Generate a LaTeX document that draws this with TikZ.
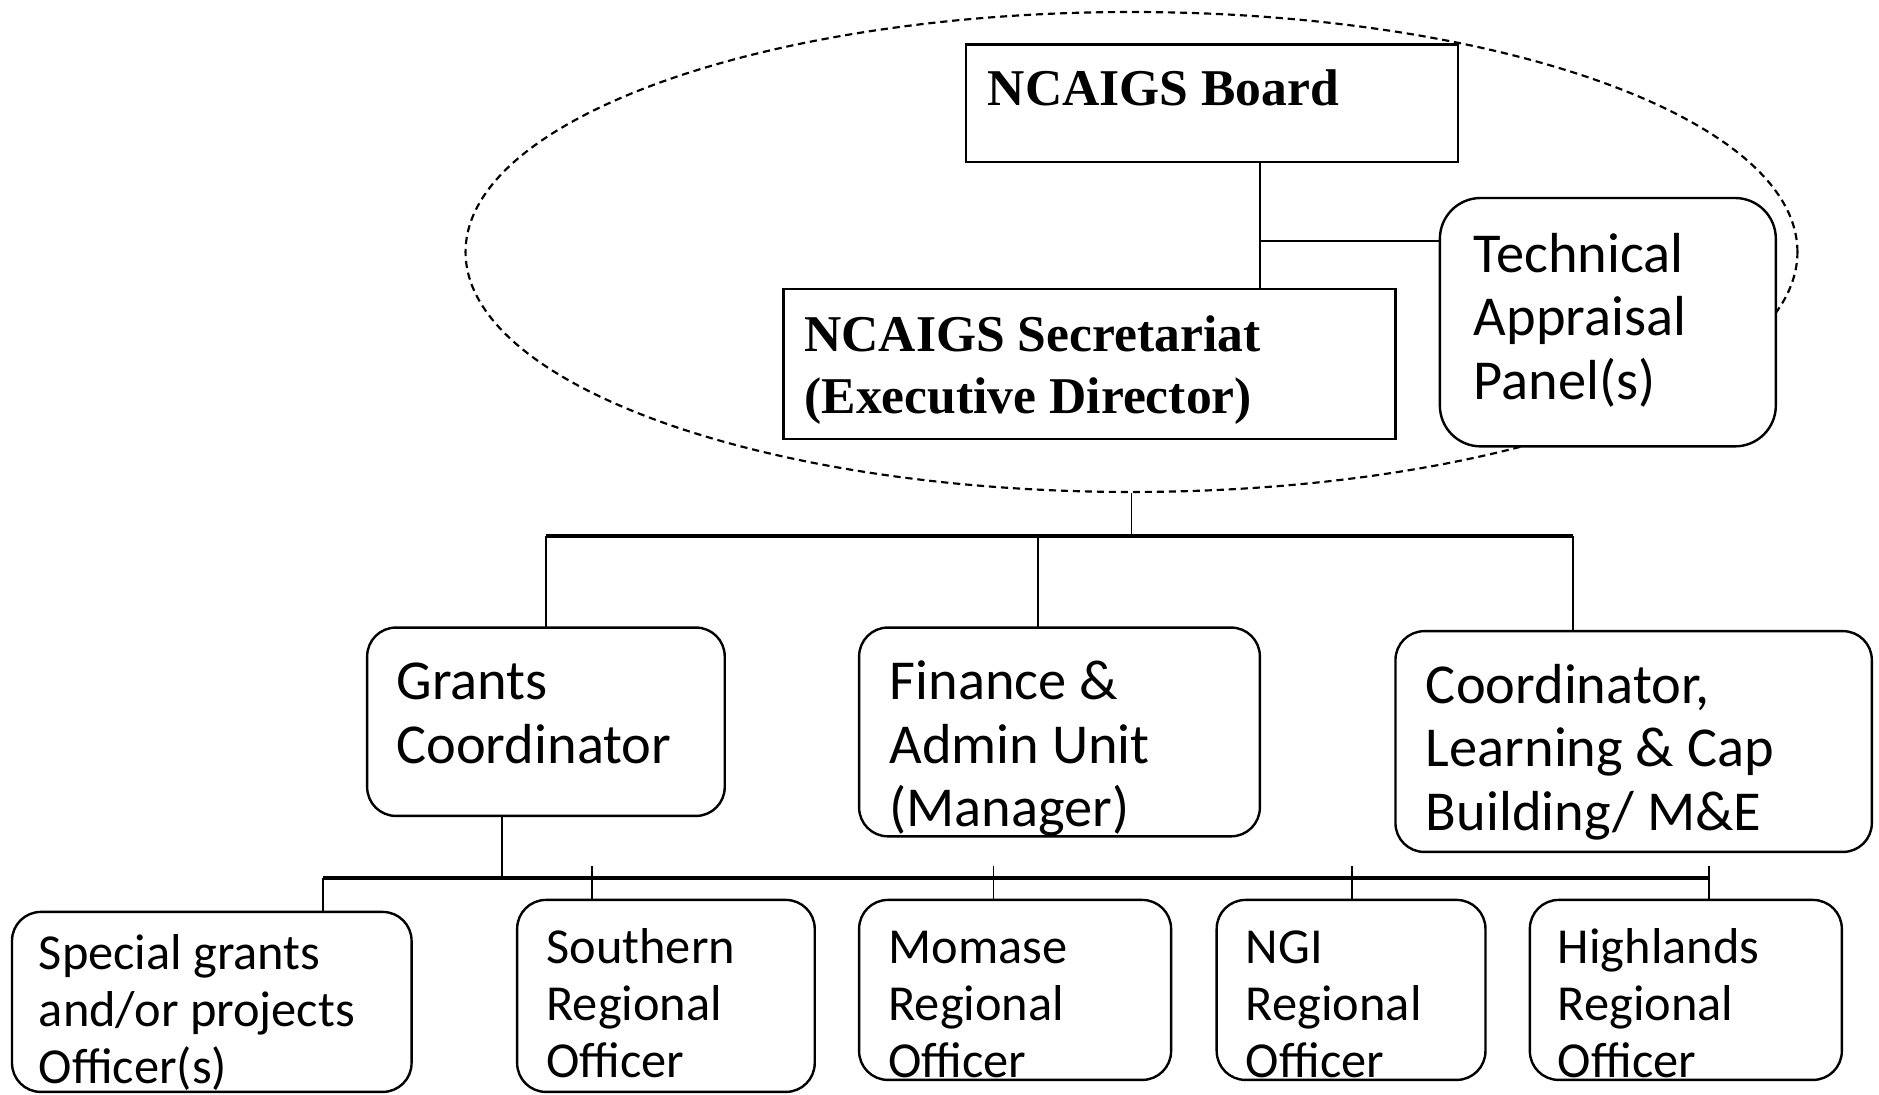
\documentclass[tikz,border=0pt]{standalone}
\usepackage{fontspec}
\usetikzlibrary{shapes.geometric}
\newfontfamily\boxsans{Carlito}
\newfontfamily\boxserif{Liberation Serif}
\tikzset{
 sqbox/.style={draw,line width=1pt,fill=white,inner sep=0pt,outer sep=0pt},
 rbox/.style={sqbox,rounded corners=12pt},
 lbl/.style={anchor=base west,inner sep=0pt,align=left},
 midtxt/.style={lbl,font=\boxsans\fontsize{23.5}{26.5}\selectfont},
 lowtxt/.style={lbl,font=\boxsans\fontsize{21}{23.75}\selectfont},
 boldtxt/.style={lbl,font=\boxserif\bfseries\fontsize{21.5}{26}\selectfont},
 link/.style={line width=0.8pt},
 bus/.style={line width=1.6pt},
}
\begin{document}
\begin{tikzpicture}[x=0.5pt,y=-0.5pt]
 \useasboundingbox (0,0) rectangle (1566,912);
 % dashed group round board, secretariat and panel
 \node[draw,dashed,dash pattern=on 3pt off 2pt,line width=0.9pt,ellipse,inner sep=0pt,
   minimum width=555pt,minimum height=200pt] (group) at (943,210) {};
 % top level
 \node[sqbox,minimum width=205pt,minimum height=49pt,
   label={[boldtxt,xshift=9pt,yshift=-25.5pt]north west:{NCAIGS Board}}] (board) at (1010,86) {};
 \node[sqbox,minimum width=255pt,minimum height=62.5pt,
   label={[boldtxt,xshift=8.5pt,yshift=-52pt]north west:{NCAIGS Secretariat\\(Executive Director)}}] (secr) at (908,303.5) {};
 \node[rbox,rounded corners=17pt,minimum width=140pt,minimum height=103.5pt,
   label={[midtxt,xshift=14pt,yshift=-84pt]north west:{Technical\\Appraisal\\Panel(s)}}] (tech) at (1340,268.5) {};
 % units
 \node[rbox,minimum width=149pt,minimum height=78.5pt,
   label={[midtxt,xshift=12pt,yshift=-56.5pt]north west:{Grants\\Coordinator}}] (grants) at (455,601.5) {};
 \node[rbox,minimum width=167pt,minimum height=87pt,
   label={[midtxt,xshift=12.5pt,yshift=-83pt]north west:{Finance \&\\Admin Unit\\(Manager)}}] (fin) at (883,610) {};
 \node[rbox,minimum width=198.5pt,minimum height=92pt,
   label={[midtxt,xshift=12.5pt,yshift=-83pt]north west:{Coordinator,\\Learning \& Cap\\Building/ M\&E}}] (coord) at (1361.5,618) {};
 % officers
 \node[rbox,minimum width=166.5pt,minimum height=75pt,
   label={[lowtxt,xshift=11pt,yshift=-71.5pt]north west:{Special grants\\and/or projects\\Officer(s)}}] (special) at (176.5,835) {};
 \node[rbox,minimum width=124pt,minimum height=80pt,
   label={[lowtxt,xshift=12pt,yshift=-74pt]north west:{Southern\\Regional\\Officer}}] (south) at (555,830) {};
 \node[rbox,minimum width=130pt,minimum height=75pt,
   label={[lowtxt,xshift=12pt,yshift=-74pt]north west:{Momase\\Regional\\Officer}}] (momase) at (846,825) {};
 \node[rbox,minimum width=112pt,minimum height=75pt,
   label={[lowtxt,xshift=12pt,yshift=-74pt]north west:{NGI\\Regional\\Officer}}] (ngi) at (1126,825) {};
 \node[rbox,minimum width=130pt,minimum height=75pt,
   label={[lowtxt,xshift=11.5pt,yshift=-74pt]north west:{Highlands\\Regional\\Officer}}] (high) at (1405,825) {};
 % board to secretariat and panel
 \coordinate (bj) at (1050,201);
 \draw[link] (board.south -| bj) -- (secr.north -| bj);
 \draw[link] (bj) -- (bj -| tech.west);
 % group to units
 \coordinate (busa) at (940,447);
 \draw[link] (group.south) -- (group.south |- busa);
 \draw[bus] (grants.north |- busa) -- ([xshift=-25.25pt]coord.north |- busa);
 \foreach \n/\dx in {grants/0,fin/-9,coord/-25.25}
   \draw[link] ([xshift=\dx pt]\n.north |- busa) -- ([xshift=\dx pt]\n.north);
 % grants to officers
 \coordinate (busb) at (418,732);
 \draw[link] ([xshift=-18.5pt]grants.south) -- ([xshift=-18.5pt]grants.south |- busb);
 \draw[bus] ([xshift=46.25pt]special.north |- busb) -- ([xshift=9.5pt]high.north |- busb);
 \draw[link] ([xshift=46.25pt]special.north |- busb) -- ([xshift=46.25pt]special.north);
 \foreach \n/\dx in {south/-31,momase/-9,ngi/0.5,high/9.5}
   \draw[link] ([xshift=\dx pt,yshift=5pt]\n.north |- busb) -- ([xshift=\dx pt]\n.north);
\end{tikzpicture}
\end{document}
